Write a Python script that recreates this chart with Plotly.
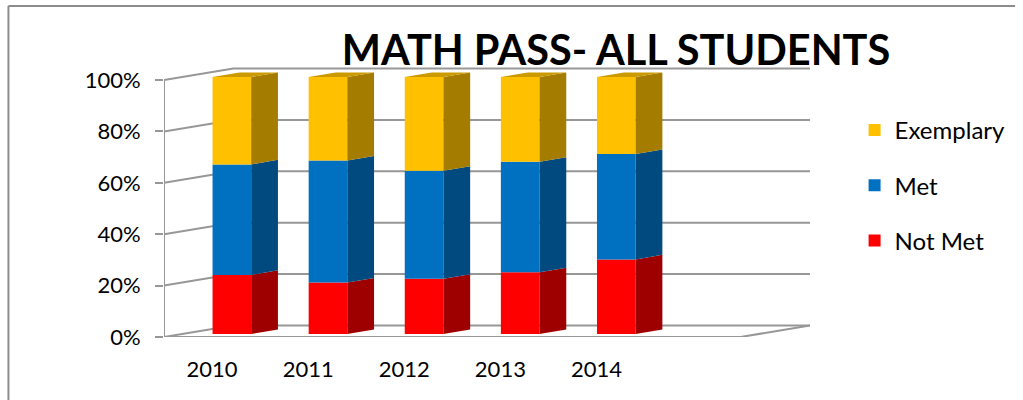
import plotly.graph_objects as go

# ---- data ----
years = ["2010", "2011", "2012", "2013", "2014"]
not_met = [23, 20, 21.5, 24, 29]
met = [43, 47.5, 42, 43, 41]
exemplary = [34, 32.5, 36.5, 33, 30]
series_names = ["Not Met", "Met", "Exemplary"]
legend_ranks = [3, 2, 1]
y_ticks = [0, 20, 40, 60, 80, 100]
n_slots = 6  # axis has one empty slot after 2014

# ---- geometry (pixels -> axis units) ----
W, H = 1023, 400
L, R, T, B = 164, 816, 60, 337
XPX = 97.0      # px per category slot
YPX = 2.57      # px per percent
wall_dx, wall_dy = 70 / XPX, 11.5 / YPX
bar_off, bar_w = 49 / XPX, 39 / XPX
bar_lift = 3 / YPX
d_dx, d_dy = 27 / XPX, 4.6 / YPX

front = ["#FF0000", "#0070C0", "#FFC000"]
side = ["#9E0000", "#004A80", "#A37C00"]
top_col = "#CC9A00"
grid_col = "#979797"
FONT = "Lato"

fig = go.Figure()
series = [not_met, met, exemplary]
cum = [0.0] * len(years)
xc = [i + bar_off + bar_w / 2 for i in range(len(years))]
for k, (name, vals) in enumerate(zip(series_names, series)):
    base = [c + bar_lift for c in cum]
    fig.add_trace(go.Bar(
        x=xc, y=vals, base=base, width=bar_w, name=name,
        marker=dict(color=front[k], line=dict(width=0)),
        legendgroup=name, legendrank=legend_ranks[k],
        hovertemplate=name + ": %{y}%<extra></extra>"))
    # side faces
    sx, sy = [], []
    for i in range(len(years)):
        xr = i + bar_off + bar_w
        b0, b1 = base[i], base[i] + vals[i]
        sx += [xr, xr + d_dx, xr + d_dx, xr, xr, None]
        sy += [b0, b0 + d_dy, b1 + d_dy, b1, b0, None]
    fig.add_trace(go.Scatter(x=sx, y=sy, mode="lines", fill="toself",
                             fillcolor=side[k], line=dict(width=0, color=side[k]),
                             showlegend=False, hoverinfo="skip"))
    cum = [c + v for c, v in zip(cum, vals)]

# top faces
tx, ty = [], []
for i in range(len(years)):
    xl = i + bar_off
    xr = xl + bar_w
    t = cum[i] + bar_lift
    tx += [xl, xr, xr + d_dx, xl + d_dx, xl, None]
    ty += [t, t, t + d_dy, t + d_dy, t, None]
fig.add_trace(go.Scatter(x=tx, y=ty, mode="lines", fill="toself",
                         fillcolor=top_col, line=dict(width=0, color=top_col),
                         showlegend=False, hoverinfo="skip"))

# ---- wall gridlines, floor, axis lines (shapes below traces) ----
shapes = []
xmax = n_slots + wall_dx
for v in y_ticks:
    shapes.append(dict(type="path", xref="x", yref="y", layer="below",
                       path=f"M 0,{v} L {wall_dx},{v + wall_dy} L {xmax},{v + wall_dy}",
                       line=dict(color=grid_col, width=2)))
# floor front edge and right edge
shapes.append(dict(type="path", xref="x", yref="y", layer="below",
                   path=f"M 0,0 L {n_slots},0 L {xmax},{wall_dy}",
                   line=dict(color=grid_col, width=2)))
# left vertical axis
shapes.append(dict(type="line", xref="x", yref="y", layer="below",
                   x0=0, x1=0, y0=0, y1=y_ticks[-1],
                   line=dict(color=grid_col, width=2)))
# x tick marks at slot boundaries
for i in range(n_slots + 1):
    shapes.append(dict(type="line", xref="x", yref="y", layer="below",
                       x0=i, x1=i, y0=0, y1=-8 / YPX,
                       line=dict(color=grid_col, width=2)))
# outer frame (top and left edges)
pw, ph = R - L, B - T
fx0 = (7 - L) / pw
fy0 = (B - 6) / ph
shapes.append(dict(type="line", xref="paper", yref="paper",
                   x0=fx0, x1=(W - L) / pw, y0=fy0, y1=fy0,
                   line=dict(color="#8c8c8c", width=2)))
shapes.append(dict(type="line", xref="paper", yref="paper",
                   x0=fx0, x1=fx0, y0=fy0, y1=(B - H) / ph,
                   line=dict(color="#8c8c8c", width=2)))

fig.update_layout(
    width=W, height=H,
    margin=dict(l=L, r=W - R, t=T, b=H - B, pad=0),
    paper_bgcolor="white", plot_bgcolor="white",
    barmode="overlay",
    font=dict(family=FONT, size=22, color="#000000"),
    title=dict(text="<b>MATH PASS- ALL STUDENTS</b>",
               font=dict(family=FONT, size=41.5, color="#000000"),
               x=616 / W, xanchor="center", xref="container",
               y=1 - 50 / H, yanchor="middle", yref="container"),
    xaxis=dict(range=[0, pw / XPX], showgrid=False, zeroline=False,
               showline=False, ticks="",
               tickvals=[i + 0.5 for i in range(len(years))], ticktext=years,
               ticklabelstandoff=17),
    yaxis=dict(range=[0, ph / YPX], showgrid=False, zeroline=False,
               showline=False, tickvals=y_ticks,
               ticktext=[f"{v}%" for v in y_ticks],
               ticks="outside", ticklen=8, tickwidth=2, tickcolor=grid_col,
               ticklabelstandoff=10),
    legend=dict(x=(861 - L) / pw, xanchor="left", y=(B - 108) / ph, yanchor="top",
                traceorder="grouped", tracegroupgap=21,
                font=dict(family=FONT, size=24), bgcolor="rgba(0,0,0,0)"),
    shapes=shapes,
    showlegend=True,
)

fig.write_html("out.html",
               config={"displayModeBar": False},
               post_script="document.body.style.margin='0';document.body.style.overflow='hidden';")
